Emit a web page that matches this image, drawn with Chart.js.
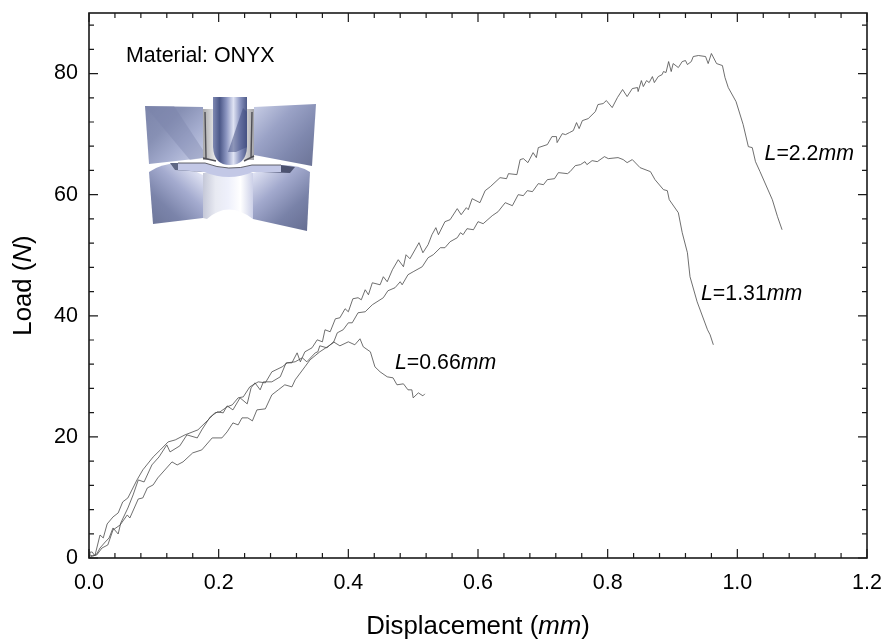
<!DOCTYPE html>
<html>
<head>
<meta charset="utf-8">
<title>Load vs displacement</title>
<script src="https://cdn.jsdelivr.net/npm/chart.js@4"></script>
<style>
  html, body { margin: 0; padding: 0; background: #ffffff; }
  canvas { display: block; }
</style>
</head>
<body>
<canvas id="loadChart" width="882" height="639"></canvas>
<script>
// values: displacement (mm) and load (N) per specimen
const seriesLabels = ["L=2.2mm", "L=1.31mm", "L=0.66mm"];

const longX = [0, .002, .006, .012, .017, .025, .031, .037, .045, .049, .060, .068, .076, .085, .097, .108, .120, .125, .140, .151, .167, .174, .187, .198, .207, .213, .222, .233, .244, .250, .256, .264, .269, .282, .295, .304, .313, .321, .326, .333, .344, .352, .360, .364, .372, .380, .387, .395, .400, .407, .415, .420, .426, .431, .437, .449, .454, .460, .468, .477, .485, .489, .495, .509, .515, .523, .529, .535, .539, .549, .557, .568, .574, .582, .585, .591, .603, .611, .619, .634, .644, .647, .660, .665, .670, .677, .685, .690, .693, .707, .714, .721, .722, .730, .735, .741, .747, .752, .756, .761, .770, .781, .785, .793, .798, .807, .815, .823, .830, .838, .846, .847, .852, .855, .860, .864, .869, .872, .878, .884, .886, .890, .894, .898, .901, .909, .915, .920, .923, .929, .932, .940, .951, .955, .960, .968, .977, .981, .986, .998, 1.009, 1.017, 1.023, 1.028, 1.035, 1.054, 1.062, 1.069];
const longY = [0, .50, .33, .66, 1.65, 2.64, 3.31, 4.96, 3.97, 5.79, 8.26, 10.41, 12.89, 12.56, 15.37, 16.69, 18.68, 17.52, 18.51, 20.33, 19.83, 21.16, 23.31, 24.13, 23.97, 25.12, 24.46, 26.45, 25.45, 28.10, 28.93, 27.77, 29.09, 29.09, 29.92, 32.23, 32.23, 33.88, 32.40, 34.05, 34.71, 36.03, 35.70, 37.69, 37.36, 39.50, 39.67, 41.16, 40.66, 42.81, 42.98, 42.64, 44.30, 43.47, 45.45, 45.12, 46.45, 45.62, 47.60, 49.26, 48.10, 50.08, 49.42, 52.07, 50.41, 51.74, 53.39, 54.55, 53.39, 55.54, 55.87, 57.69, 56.69, 57.85, 57.52, 59.34, 58.68, 60.66, 61.32, 62.81, 62.64, 63.47, 63.31, 65.79, 65.95, 65.29, 66.94, 66.12, 67.77, 68.27, 69.59, 69.59, 68.60, 70.08, 69.92, 70.25, 70.58, 71.90, 70.91, 72.23, 72.56, 73.72, 74.88, 75.04, 75.54, 74.38, 76.03, 77.36, 76.20, 77.52, 77.69, 77.03, 78.84, 77.85, 78.84, 78.51, 79.50, 78.51, 79.50, 79.83, 80.33, 80.17, 81.98, 80.33, 81.65, 80.99, 81.98, 82.15, 81.49, 81.98, 82.81, 82.98, 82.81, 81.65, 83.31, 81.65, 81.32, 79.34, 77.69, 75.37, 71.57, 67.93, 67.77, 65.45, 63.80, 59.17, 56.36, 54.21];

const midX = [0, .005, .012, .020, .029, .037, .048, .059, .063, .076, .083, .090, .099, .106, .128, .136, .145, .160, .174, .190, .205, .213, .222, .230, .236, .245, .252, .259, .272, .282, .292, .302, .313, .318, .333, .341, .356, .377, .383, .392, .400, .406, .415, .426, .437, .454, .461, .472, .480, .483, .492, .500, .514, .523, .531, .542, .549, .557, .568, .573, .577, .583, .593, .600, .608, .622, .631, .642, .653, .662, .670, .676, .684, .693, .701, .707, .718, .724, .738, .742, .750, .758, .765, .768, .776, .784, .795, .801, .816, .824, .830, .838, .850, .866, .873, .886, .892, .895, .909, .915, .923, .927, .938, .954, .958, .963];
const midY = [0, .33, .50, 1.65, 2.15, 4.63, 5.45, 7.11, 6.61, 9.75, 9.92, 11.57, 12.07, 13.22, 15.87, 15.37, 15.87, 17.36, 17.85, 19.83, 19.83, 20.83, 22.31, 21.98, 23.14, 23.14, 22.64, 24.46, 24.63, 26.94, 27.77, 28.60, 28.26, 29.42, 31.57, 32.73, 34.05, 35.54, 37.19, 37.69, 38.84, 38.84, 40.50, 40.66, 41.82, 42.98, 44.13, 44.63, 45.62, 45.12, 46.78, 47.27, 48.10, 49.59, 50.08, 51.24, 51.24, 52.23, 52.89, 53.72, 53.39, 54.38, 54.21, 55.54, 55.21, 56.53, 57.19, 58.68, 58.18, 60.00, 59.84, 60.66, 60.50, 61.82, 61.65, 62.48, 62.64, 63.64, 63.47, 63.80, 64.79, 64.96, 65.45, 64.96, 65.62, 65.45, 66.28, 65.95, 66.12, 65.79, 65.29, 65.79, 64.46, 63.80, 62.48, 60.83, 60.66, 59.17, 57.02, 53.72, 50.41, 46.45, 42.31, 37.69, 36.86, 35.21];

const shortX = [0, .002, .005, .009, .017, .022, .028, .037, .045, .052, .060, .074, .083, .099, .110, .122, .133, .148, .168, .187, .194, .202, .213, .221, .230, .238, .248, .261, .272, .282, .298, .306, .318, .329, .336, .349, .353, .356, .367, .377, .387, .400, .410, .418, .423, .434, .441, .449, .460, .469, .475, .485, .492, .498, .500, .508, .515, .518];
const shortY = [0, .99, .99, .33, 3.80, 3.31, 5.62, 6.78, 7.44, 9.26, 9.92, 12.89, 14.55, 16.69, 17.85, 19.17, 19.50, 20.33, 21.16, 23.14, 23.97, 24.13, 24.96, 25.29, 26.45, 26.61, 28.26, 29.09, 28.93, 30.74, 31.57, 32.23, 32.40, 33.06, 32.40, 33.88, 34.05, 35.04, 34.71, 35.70, 35.04, 35.70, 35.21, 36.20, 34.88, 34.05, 31.57, 30.74, 29.92, 29.75, 28.60, 28.76, 27.77, 27.77, 26.45, 27.27, 26.78, 27.11];

const xMajor = [0, 0.2, 0.4, 0.6, 0.8, 1.0, 1.2];
const xMinor = [0.04, 0.08, 0.12, 0.16, 0.24, 0.28, 0.32, 0.36, 0.44, 0.48, 0.52, 0.56, 0.64, 0.68, 0.72, 0.76, 0.84, 0.88, 0.92, 0.96, 1.04, 1.08, 1.12, 1.16];
const yMajor = [0, 20, 40, 60, 80];
const yMinor = [4, 8, 12, 16, 24, 28, 32, 36, 44, 48, 52, 56, 64, 68, 72, 76, 84, 88];

const FONT = '"Liberation Sans", Arial, sans-serif';
const INK = "#1a1a1a";

function zip(xs, ys) {
  return xs.map((x, i) => ({ x: x, y: ys[i] }));
}

// text with mixed upright / italic runs, centred or left aligned
function drawRuns(ctx, runs, size, x, y, centred) {
  ctx.textBaseline = "alphabetic";
  ctx.textAlign = "left";
  ctx.fillStyle = "#000";
  let total = 0;
  runs.forEach(r => {
    ctx.font = (r[1] ? "italic " : "") + size + "px " + FONT;
    total += ctx.measureText(r[0]).width;
  });
  let cx = centred ? x - total / 2 : x;
  runs.forEach(r => {
    ctx.font = (r[1] ? "italic " : "") + size + "px " + FONT;
    ctx.fillText(r[0], cx, y);
    cx += ctx.measureText(r[0]).width;
  });
}

function poly(ctx, pts, fill) {
  ctx.beginPath();
  pts.forEach((p, i) => (i ? ctx.lineTo(p[0], p[1]) : ctx.moveTo(p[0], p[1])));
  ctx.closePath();
  ctx.fillStyle = fill;
  ctx.fill();
}

function lin(ctx, x0, y0, x1, y1, stops) {
  const g = ctx.createLinearGradient(x0, y0, x1, y1);
  stops.forEach((c, i) => g.addColorStop(i / (stops.length - 1), c));
  return g;
}

// the little render of the test fixture, top left of the plot
function drawInset(ctx) {
  ctx.save();
  // grey inside walls behind the punch
  poly(ctx, [[203, 109], [254, 109], [254, 160], [203, 160]], lin(ctx, 203, 0, 254, 0, ["#a8a8aa", "#ececee", "#b5b5b8", "#ececee", "#a4a4a8"]));
  // upper blocks
  poly(ctx, [[145, 106], [203, 107], [203, 158], [149, 164]], lin(ctx, 150, 105, 205, 160, ["#7d86ab", "#8790b4", "#a6aed0", "#c9cfe6"]));
  poly(ctx, [[145, 106], [174, 106], [203, 150], [203, 158], [190, 160]], "rgba(120,128,170,0.35)");
  poly(ctx, [[254, 107], [316, 104], [312, 166], [254, 155]], lin(ctx, 254, 110, 314, 165, ["#c3c9e2", "#9aa2c6", "#7f88ae", "#6c7497"]));
  // lower blocks
  ctx.beginPath();
  ctx.moveTo(149, 172);
  ctx.quadraticCurveTo(160, 164, 178, 163);
  ctx.lineTo(203, 175);
  ctx.lineTo(203, 218);
  ctx.lineTo(153, 224);
  ctx.closePath();
  ctx.fillStyle = lin(ctx, 200, 172, 150, 225, ["#e2e5f5", "#a4abcf", "#7b84aa", "#6c7598"]);
  ctx.fill();
  ctx.beginPath();
  ctx.moveTo(253, 173);
  ctx.lineTo(281, 165);
  ctx.quadraticCurveTo(300, 165, 310, 172);
  ctx.lineTo(307, 231);
  ctx.lineTo(253, 219);
  ctx.closePath();
  ctx.fillStyle = lin(ctx, 255, 172, 308, 230, ["#dfe2f3", "#a2a9cd", "#7982a8", "#666e92"]);
  ctx.fill();
  // centre bore
  ctx.beginPath();
  ctx.moveTo(203, 173);
  ctx.lineTo(253, 173);
  ctx.lineTo(253, 219);
  ctx.quadraticCurveTo(228, 200, 207, 219);
  ctx.lineTo(203, 218);
  ctx.closePath();
  ctx.fillStyle = lin(ctx, 203, 0, 253, 0, ["#c5c8d8", "#e8eaf2", "#eef0fb", "#ffffff", "#ccd0e8"]);
  ctx.fill();
  // dark ends of the plate
  poly(ctx, [[170, 163], [178, 163], [204, 172], [175, 170]], "#5f6784");
  poly(ctx, [[281, 165], [295, 167], [290, 173], [262, 172]], "#4c5270");
  // plate
  ctx.beginPath();
  ctx.moveTo(178, 163);
  ctx.lineTo(205, 163);
  ctx.quadraticCurveTo(229, 172, 252, 165);
  ctx.lineTo(281, 165);
  ctx.lineTo(281, 172);
  ctx.lineTo(253, 172);
  ctx.quadraticCurveTo(229, 182, 204, 172);
  ctx.lineTo(178, 170);
  ctx.closePath();
  ctx.fillStyle = "#c3c8e6";
  ctx.fill();
  ctx.strokeStyle = "#3c3c44";
  ctx.lineWidth = 0.8;
  ctx.beginPath();
  ctx.moveTo(178, 163);
  ctx.lineTo(205, 163);
  ctx.quadraticCurveTo(229, 172, 252, 165);
  ctx.lineTo(281, 165);
  ctx.stroke();
  // dark edges of the walls, closing in on the punch
  ctx.strokeStyle = "#4e4e55";
  ctx.lineWidth = 1.4;
  ctx.beginPath();
  ctx.moveTo(203, 158);
  ctx.lineTo(216, 161);
  ctx.moveTo(254, 156);
  ctx.lineTo(244, 161);
  ctx.moveTo(205, 112);
  ctx.lineTo(206, 158);
  ctx.moveTo(252, 112);
  ctx.lineTo(251, 158);
  ctx.stroke();
  // punch
  ctx.beginPath();
  ctx.moveTo(213, 97);
  ctx.lineTo(247, 97);
  ctx.lineTo(247, 147);
  ctx.quadraticCurveTo(246, 165, 230, 165);
  ctx.quadraticCurveTo(214, 165, 213, 147);
  ctx.closePath();
  ctx.fillStyle = lin(ctx, 213, 0, 247, 0, ["#7e88b2", "#4c5888", "#8d97c2", "#dfe3f3", "#8a94c0", "#4e5a88"]);
  ctx.fill();
  poly(ctx, [[243, 108], [247, 112], [247, 147], [236, 152], [228, 152]], "rgba(60,72,125,0.5)");
  ctx.restore();
}

// inward ticks on all four sides, placed with the chart's own scales
const frameTicks = {
  id: "frameTicks",
  beforeDatasetsDraw(chart) {
    drawInset(chart.ctx);
  },
  afterDraw(chart) {
    const ctx = chart.ctx;
    const a = chart.chartArea;
    const sx = chart.scales.x;
    const sy = chart.scales.y;
    ctx.save();
    ctx.strokeStyle = INK;
    ctx.lineWidth = 1.6;
    ctx.strokeRect(a.left, a.top, a.right - a.left, a.bottom - a.top);
    function xTicks(list, len) {
      list.forEach(v => {
        const p = sx.getPixelForValue(v);
        ctx.moveTo(p, a.bottom); ctx.lineTo(p, a.bottom - len);
        ctx.moveTo(p, a.top); ctx.lineTo(p, a.top + len);
      });
    }
    function yTicks(list, len) {
      list.forEach(v => {
        const p = sy.getPixelForValue(v);
        ctx.moveTo(a.left, p); ctx.lineTo(a.left + len, p);
        ctx.moveTo(a.right, p); ctx.lineTo(a.right - len, p);
      });
    }
    ctx.lineWidth = 1.2;
    ctx.beginPath();
    xTicks(xMajor, 9);
    xTicks(xMinor, 5);
    yTicks(yMajor, 9);
    yTicks(yMinor, 5);
    ctx.stroke();

    // annotations sit on data coordinates
    const note = (x, y, runs, size) => drawRuns(ctx, runs, size, sx.getPixelForValue(x), sy.getPixelForValue(y), false);
    drawRuns(ctx, [["Material: ONYX", false]], 21.4, 126, 62, false);
    note(1.042, 65.8, [["L", true], ["=2.2", false], ["mm", true]], 21.3);
    note(0.944, 42.6, [["L", true], ["=1.31", false], ["mm", true]], 21.3);
    note(0.472, 31.2, [["L", true], ["=0.66", false], ["mm", true]], 21.3);

    // axis titles have an italic unit, so they are drawn as runs
    drawRuns(ctx, [["Displacement (", false], ["mm", true], [")", false]], 25.8, (a.left + a.right) / 2, 634, true);
    ctx.translate(31, (a.top + a.bottom) / 2);
    ctx.rotate(-Math.PI / 2);
    drawRuns(ctx, [["Load (", false], ["N", true], [")", false]], 25.8, 0, 0, true);
    ctx.restore();
  }
};

function makeDataset(label, xs, ys) {
  return {
    label: label,
    data: zip(xs, ys),
    borderColor: "#4a4a4a",
    borderWidth: 0.8,
    pointRadius: 0,
    tension: 0,
    showLine: true,
    fill: false
  };
}

new Chart(document.getElementById("loadChart"), {
  type: "scatter",
  data: {
    datasets: [
      makeDataset(seriesLabels[0], longX, longY),
      makeDataset(seriesLabels[1], midX, midY),
      makeDataset(seriesLabels[2], shortX, shortY)
    ]
  },
  plugins: [frameTicks],
  options: {
    responsive: false,
    animation: false,
    layout: { padding: { top: 13, right: 15, left: 0, bottom: 0 } },
    plugins: { legend: { display: false }, tooltip: { enabled: false } },
    scales: {
      x: {
        type: "linear",
        min: 0,
        max: 1.2,
        afterFit(scale) {
          scale.height = 81;
          scale.paddingLeft = 0;
          scale.paddingRight = 0;
        },
        afterBuildTicks(scale) { scale.ticks = xMajor.map(v => ({ value: v })); },
        grid: { display: false },
        border: { display: false },
        ticks: {
          color: "#000",
          font: { family: FONT, size: 21.5 },
          padding: 4,
          maxRotation: 0,
          callback: v => v.toFixed(1)
        }
      },
      y: {
        type: "linear",
        min: 0,
        max: 90,
        afterFit(scale) {
          scale.width = 89;
          scale.paddingTop = 0;
          scale.paddingBottom = 0;
        },
        afterBuildTicks(scale) { scale.ticks = yMajor.map(v => ({ value: v })); },
        grid: { display: false },
        border: { display: false },
        ticks: {
          color: "#000",
          font: { family: FONT, size: 21.5 },
          padding: 3
        }
      }
    }
  }
});
</script>
</body>
</html>
